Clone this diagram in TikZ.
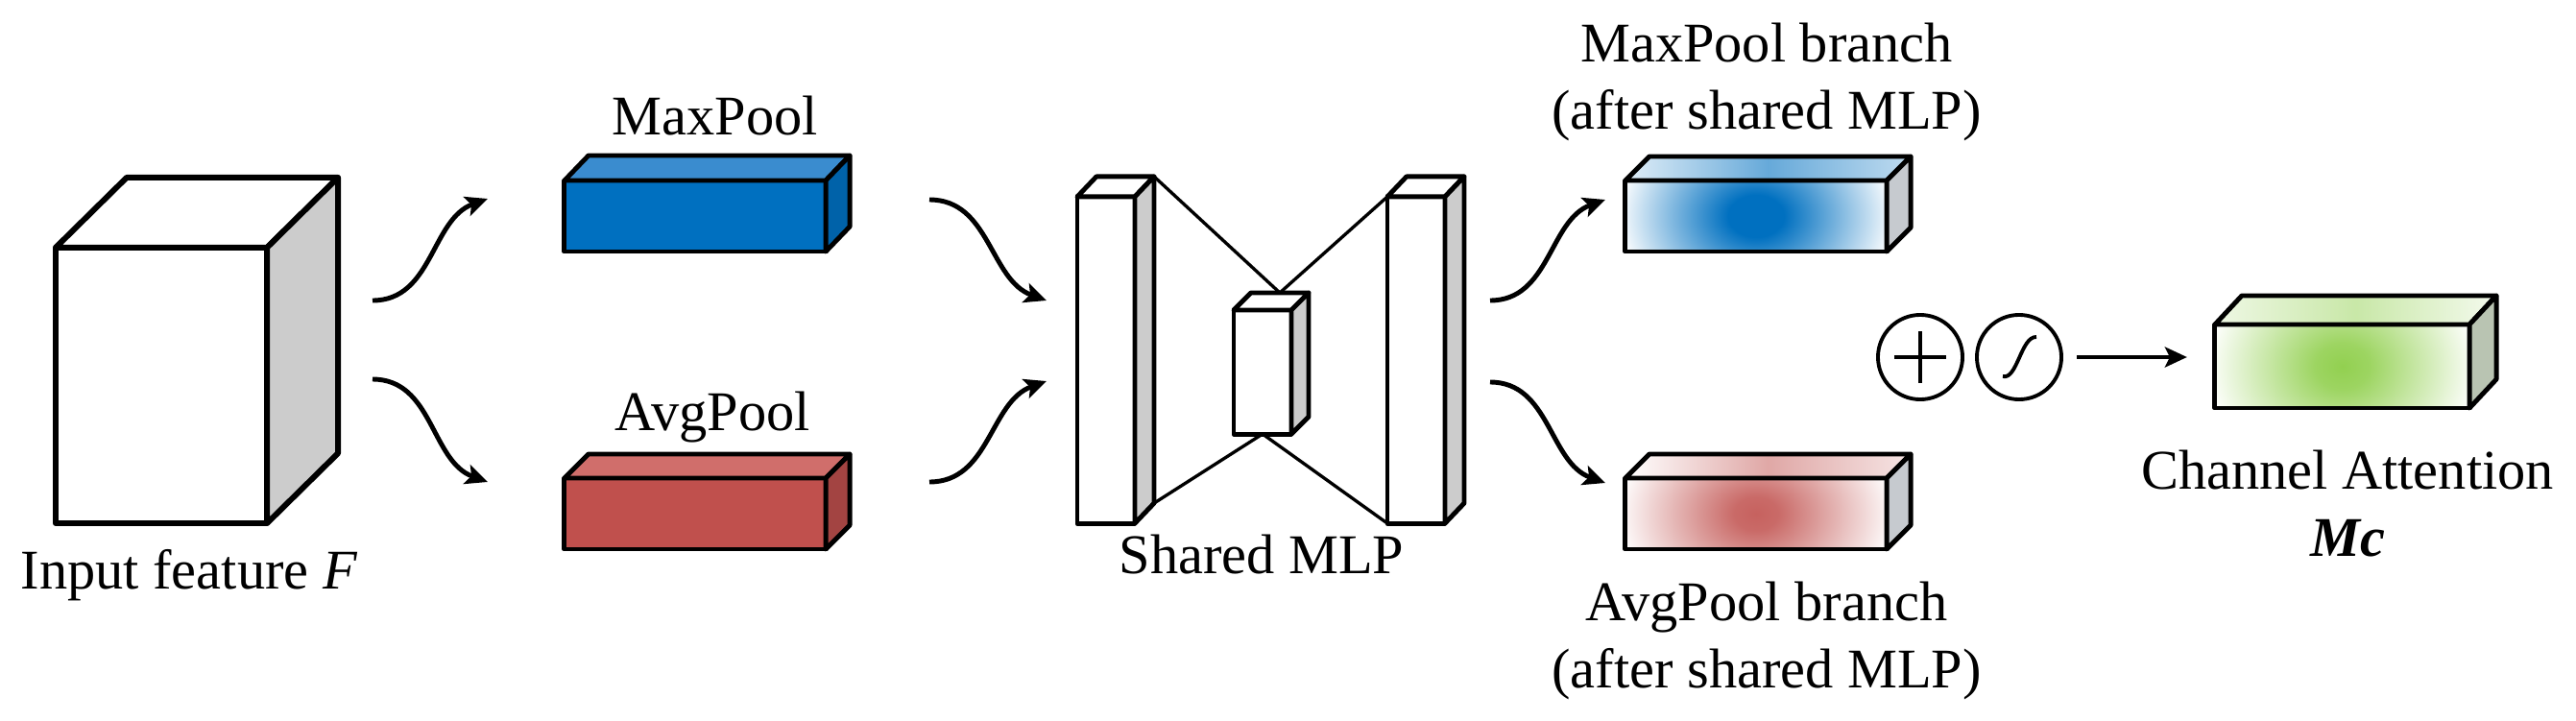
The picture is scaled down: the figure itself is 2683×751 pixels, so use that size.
\documentclass[tikz,border=0pt]{standalone}
\usepackage{fontspec}
\setmainfont{Liberation Serif}
\usetikzlibrary{arrows.meta,positioning}

\definecolor{mpFront}{HTML}{0070C0}
\definecolor{mpTop}{HTML}{3A8CCF}
\definecolor{mpSide}{HTML}{0062A9}
\definecolor{apFront}{HTML}{C0504D}
\definecolor{apTop}{HTML}{D06E6B}
\definecolor{apSide}{HTML}{A34442}
\definecolor{sideGray}{HTML}{CCCCCC}
\definecolor{brSide}{HTML}{C6CACF}
\definecolor{attGreen}{HTML}{92D050}
\definecolor{attSide}{HTML}{B9C4B2}

\pgfdeclareradialshading{mpfade}{\pgfpoint{0bp}{0bp}}{color(0bp)=(mpFront); color(5bp)=(mpFront); color(25bp)=(white); color(50bp)=(white)}
\pgfdeclareradialshading{apfade}{\pgfpoint{0bp}{0bp}}{color(0bp)=(apFront!90!white); color(4bp)=(apFront!85!white); color(25bp)=(white); color(50bp)=(white)}
\pgfdeclareradialshading{attfade}{\pgfpoint{0bp}{0bp}}{color(0bp)=(attGreen); color(5bp)=(attGreen!90!white); color(25bp)=(white); color(50bp)=(white)}

\begin{document}
\begin{tikzpicture}[
    x=0.01cm, y=-0.01cm,
    line join=round,
    >={Stealth[length=2.3mm,width=2.1mm,inset=0.5mm]},
    face/.style={draw, line width=1.4pt, inner sep=0pt, outer sep=0pt},
    flow/.style={->, line width=1.4pt},
    link/.style={line width=0.95pt},
    op/.style={circle, draw, line width=1.1pt, minimum size=0.88cm, inner sep=0pt, outer sep=0pt},
    lbl/.style={font=\fontsize{16.6}{19.9}\selectfont, inner sep=0pt, anchor=base},
    lbl2/.style={lbl, anchor=north, align=center}
  ]
  \useasboundingbox (0,0) rectangle (2683,751);

  % input feature
  \node[face, line width=1.7pt, fill=white, minimum width=2.2cm, minimum height=2.87cm] (in) at (168,401.5) {};
  \filldraw[line width=1.7pt, fill=white] (in.north west) -- ++(74,-73) -- ([shift={(74,-73)}]in.north east) -- (in.north east) -- cycle;
  \filldraw[line width=1.7pt, fill=sideGray] (in.north east) -- ++(74,-73) -- ([shift={(74,-73)}]in.south east) -- (in.south east) -- cycle;
  \node[lbl] (lIn) at (197,613) {Input feature \textit{F}};

  % pooling
  \node[face, fill=mpFront, minimum width=2.72cm, minimum height=0.74cm] (mp) at (724,225) {};
  \filldraw[line width=1.4pt, fill=mpTop] (mp.north west) -- ++(25,-26) -- ([shift={(25,-26)}]mp.north east) -- (mp.north east) -- cycle;
  \filldraw[line width=1.4pt, fill=mpSide] (mp.north east) -- ++(25,-26) -- ([shift={(25,-26)}]mp.south east) -- (mp.south east) -- cycle;
  \node[lbl] (lMp) at (745,140) {MaxPool};

  \node[face, fill=apFront, minimum width=2.72cm, minimum height=0.74cm] (ap) at (724,535) {};
  \filldraw[line width=1.4pt, fill=apTop] (ap.north west) -- ++(25,-25) -- ([shift={(25,-25)}]ap.north east) -- (ap.north east) -- cycle;
  \filldraw[line width=1.4pt, fill=apSide] (ap.north east) -- ++(25,-25) -- ([shift={(25,-25)}]ap.south east) -- (ap.south east) -- cycle;
  \node[lbl] (lAp) at (742,448) {AvgPool};

  \coordinate (a1s) at (388,313); \coordinate (a1e) at (508,207);
  \coordinate (a2s) at (388,395); \coordinate (a2e) at (508,502);
  \draw[flow] (a1s) to[out=0, in=200] (a1e);
  \draw[flow] (a2s) to[out=0, in=160] (a2e);

  % shared MLP
  \node[face, fill=white, minimum width=0.6cm, minimum height=3.4cm] (mlpL) at (1152,375) {};
  \filldraw[line width=1.4pt, fill=white] (mlpL.north west) -- ++(20,-21) -- ([shift={(20,-21)}]mlpL.north east) -- (mlpL.north east) -- cycle;
  \filldraw[line width=1.4pt, fill=sideGray] (mlpL.north east) -- ++(20,-21) -- ([shift={(20,-21)}]mlpL.south east) -- (mlpL.south east) -- cycle;

  \node[face, fill=white, minimum width=0.6cm, minimum height=1.29cm] (mlpM) at (1315,387.5) {};
  \filldraw[line width=1.4pt, fill=white] (mlpM.north west) -- ++(18,-18) -- ([shift={(18,-18)}]mlpM.north east) -- (mlpM.north east) -- cycle;
  \filldraw[line width=1.4pt, fill=sideGray] (mlpM.north east) -- ++(18,-18) -- ([shift={(18,-18)}]mlpM.south east) -- (mlpM.south east) -- cycle;

  \node[face, fill=white, minimum width=0.6cm, minimum height=3.4cm] (mlpR) at (1475,375) {};
  \filldraw[line width=1.4pt, fill=white] (mlpR.north west) -- ++(20,-21) -- ([shift={(20,-21)}]mlpR.north east) -- (mlpR.north east) -- cycle;
  \filldraw[line width=1.4pt, fill=sideGray] (mlpR.north east) -- ++(20,-21) -- ([shift={(20,-21)}]mlpR.south east) -- (mlpR.south east) -- cycle;

  \coordinate (mlpX) at ([shift={(18,-18)}]mlpM.north);
  \draw[link] ([shift={(20,-21)}]mlpL.north east) -- (mlpX) -- (mlpR.north west);
  \draw[link] ([shift={(20,-21)}]mlpL.south east) -- (mlpM.south) -- (mlpR.south west);
  \node[lbl] (lMlp) at (1314,597) {Shared MLP};

  \coordinate (a3s) at (968,208); \coordinate (a3e) at (1090,313);
  \coordinate (a4s) at (968,502); \coordinate (a4e) at (1090,397);
  \draw[flow] (a3s) to[out=0, in=160] (a3e);
  \draw[flow] (a4s) to[out=0, in=200] (a4e);

  % branches after MLP
  \coordinate (a5s) at (1552,313); \coordinate (a5e) at (1672,208);
  \coordinate (a6s) at (1552,398); \coordinate (a6e) at (1672,503);
  \draw[flow] (a5s) to[out=0, in=200] (a5e);
  \draw[flow] (a6s) to[out=0, in=160] (a6e);

  \node[face, minimum width=2.72cm, minimum height=0.74cm,
    path picture={\shade[shading=mpfade] (path picture bounding box.center) ellipse [x radius=1.45cm, y radius=1.1cm];}] (mpb) at (1829,225) {};
  \shadedraw[line width=1.4pt, left color=mpFront!12!white, right color=mpFront!25!white, middle color=mpFront!60!white] (mpb.north west) -- ++(25,-25) -- ([shift={(25,-25)}]mpb.north east) -- (mpb.north east) -- cycle;
  \filldraw[line width=1.4pt, fill=brSide] (mpb.north east) -- ++(25,-25) -- ([shift={(25,-25)}]mpb.south east) -- (mpb.south east) -- cycle;
  \node[lbl2] (lMpb) at (1840,23) {MaxPool branch\\(after shared MLP)};

  \node[face, minimum width=2.72cm, minimum height=0.74cm,
    path picture={\shade[shading=apfade] (path picture bounding box.center) ellipse [x radius=1.45cm, y radius=1.1cm];}] (apb) at (1829,535) {};
  \shadedraw[line width=1.4pt, left color=white, right color=apFront!15!white, middle color=apFront!50!white] (apb.north west) -- ++(25,-25) -- ([shift={(25,-25)}]apb.north east) -- (apb.north east) -- cycle;
  \filldraw[line width=1.4pt, fill=brSide] (apb.north east) -- ++(25,-25) -- ([shift={(25,-25)}]apb.south east) -- (apb.south east) -- cycle;
  \node[lbl2] (lApb) at (1840,605) {AvgPool branch\\(after shared MLP)};

  % add + sigmoid
  \node[op] (add) at (2000,372) {};
  \draw[line width=1.1pt] ([xshift=-2.7mm]add.center) -- ([xshift=2.7mm]add.center)
    ([yshift=-2.7mm]add.center) -- ([yshift=2.7mm]add.center);
  \node[op] (sig) at (2103,372) {};
  \draw[line width=1.1pt] ([shift={(-17,20)}]sig.center) .. controls ([shift={(-2,24)}]sig.center) and ([shift={(2,-22)}]sig.center) .. ([shift={(18,-21)}]sig.center);

  % channel attention
  \node[face, minimum width=2.65cm, minimum height=0.87cm,
    path picture={\shade[shading=attfade] (path picture bounding box.center) ellipse [x radius=1.42cm, y radius=1.2cm];}] (att) at (2439.5,381.5) {};
  \shadedraw[line width=1.4pt, left color=attGreen!15!white, right color=attGreen!10!white, middle color=attGreen!50!white] (att.north west) -- ++(28,-30) -- ([shift={(28,-30)}]att.north east) -- (att.north east) -- cycle;
  \filldraw[line width=1.4pt, fill=attSide] (att.north east) -- ++(28,-30) -- ([shift={(28,-30)}]att.south east) -- (att.south east) -- cycle;
  \node[lbl2] (lAtt) at (2445,468) {Channel Attention\\\textbf{\textit{Mc}}};

  \draw[flow, line width=1.3pt, shorten <=1.6mm, shorten >=2.9mm] (sig.east) -- (sig.east -| att.west);
\end{tikzpicture}
\end{document}
